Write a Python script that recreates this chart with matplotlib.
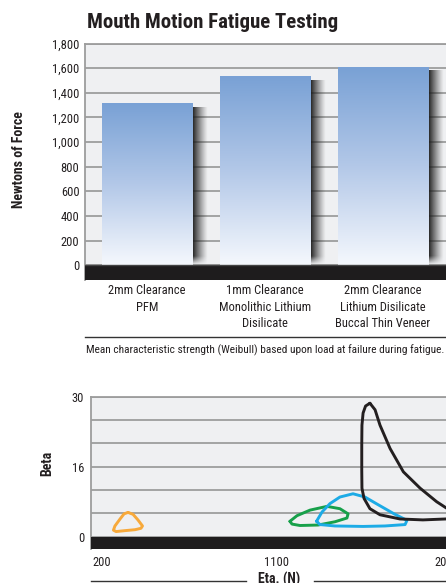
import numpy as np
import matplotlib
matplotlib.use("Agg")
import matplotlib.pyplot as plt
from matplotlib import font_manager
from matplotlib.colors import LinearSegmentedColormap
from matplotlib.lines import Line2D

names = sorted({f.name for f in font_manager.fontManager.ttflist})
NARROW = [n for n in ["DejaVu Sans Condensed", "Liberation Sans Narrow",
                      "Arial Narrow", "Roboto Condensed", "Open Sans Condensed"]
          if n in names] + ["Liberation Sans", "DejaVu Sans"]
plt.rcParams["font.family"] = NARROW
COND = NARROW[0] != "Liberation Sans"

# ---- data: bar chart ----
categories = [
    "2mm Clearance\nPFM",
    "1mm Clearance\nMonolithic Lithium\nDisilicate",
    "2mm Clearance\nLithium Disilicate\nBuccal Thin Veneer",
]
force_n = [1310, 1525, 1605]
force_ticks = list(range(0, 1801, 200))

# ---- data: Weibull contours (eta, beta) ----
orange_eta = [385, 411, 437, 461, 453, 422, 369, 322, 308, 316, 343, 364]
orange_beta = [5.2, 4.8, 3.6, 2.3, 1.8, 1.5, 1.3, 1.1, 1.4, 2.3, 3.8, 4.9]

green_eta = [1237, 1274, 1343, 1432, 1500, 1543, 1537, 1474, 1385, 1290, 1248]
green_beta = [3.3, 4.5, 5.7, 6.5, 6.0, 4.9, 4.0, 3.2, 2.5, 2.4, 2.7]

blue_eta = [1377, 1406, 1448, 1500, 1569, 1632, 1695, 1785, 1853, 1843,
            1737, 1622, 1474, 1395]
blue_beta = [3.3, 5.3, 7.1, 8.5, 9.2, 8.5, 7.0, 4.9, 3.5, 2.6,
             2.3, 2.2, 2.3, 2.6]

black_eta = [1658, 1635, 1622, 1616, 1615, 1615, 1616, 1627, 1658, 1711,
             1816, 1937, 2058, 2111, 2090, 2058, 2009, 1922, 1834, 1764,
             1711, 1685]
black_beta = [28.6, 28.0, 26.5, 23.9, 19.7, 14.3, 10.4, 8.2, 6.0, 4.7,
              3.8, 3.6, 3.8, 4.3, 5.5, 6.2, 7.5, 10.4, 13.9, 18.9,
              23.9, 27.2]

eta_ticks = [200, 1100, 2000]
beta_ticks = [0, 5, 10, 15, 20, 25, 30]
beta_labels = ["0", "", "", "16", "", "", "30"]

W, H = 446, 583
fig = plt.figure(figsize=(W / 100, H / 100), dpi=100)
fig.patch.set_facecolor("white")

BG = "#eff0f2"
GRID = "#9d9d9d"
BAND = "#1e1c1d"
TXT = "#231f20"

# sizes tuned for a condensed face; smaller if only a regular width is found
S_TITLE = 15 if COND else 13
S_TICK = 9 if COND else 8
S_CAP = 8.2 if COND else 7
S_LAB = 10 if COND else 9


def fx(px):
    return px / W


def fy(py):
    return 1 - py / H


# ================= top chart =================
ax = fig.add_axes([fx(85), fy(280), fx(470) - fx(85), fy(43.5) - fy(280)])
ax.set_facecolor(BG)
x = np.arange(len(categories))
bw = 0.77
ax.set_xlim(-0.525, -0.525 + 385 / 118)
ax.set_ylim(-118, 1800)

ax.set_yticks(force_ticks)
ax.set_yticklabels([f"{v:,}" for v in force_ticks])
ax.yaxis.grid(True, color=GRID, lw=1.3, zorder=0)
ax.set_axisbelow(True)
ax.axhspan(-118, 0, color=BAND, zorder=4, lw=0)
ax.axhline(0, color="#444444", lw=1, zorder=4)

bars = ax.bar(x, force_n, width=bw, color="none", edgecolor="none", zorder=3)

blue_cmap = LinearSegmentedColormap.from_list("bargrad", ["#f5f8fd", "#b3c8e8", "#79a1d5"])
grad = np.linspace(0, 1, 256).reshape(-1, 1)
for rect in bars:
    x0 = rect.get_x()
    x1 = x0 + rect.get_width()
    h = rect.get_height()
    ax.imshow(grad, extent=[x0, x1, 0, h], origin="lower", aspect="auto",
              cmap=blue_cmap, zorder=3)
    # soft drop shadow on the right side of the bar
    sw = 0.13
    nx, ny = 40, 200
    a = np.linspace(1.0, 0.0, nx) ** 1.2
    fade = np.clip((np.linspace(0, 1, ny)[::-1] * (h - 30)) / 70, 0, 1)
    rgba = np.zeros((ny, nx, 4))
    rgba[..., :3] = 0.1
    rgba[..., 3] = a[None, :] * fade[:, None]
    ax.imshow(rgba, extent=[x1, x1 + sw, 0, h - 30], origin="upper",
              aspect="auto", zorder=2.5)

ax.set_xticks(x)
ax.set_xticklabels(categories, fontsize=S_TICK, color=TXT)
for lbl in ax.get_xticklabels():
    lbl.set_linespacing(1.35)
ax.tick_params(axis="x", length=0, pad=3)
ax.tick_params(axis="y", length=0, pad=4, labelsize=S_TICK, labelcolor=TXT)
for s in ["right", "bottom"]:
    ax.spines[s].set_visible(False)
for s in ["top", "left"]:
    ax.spines[s].set_color(GRID)
    ax.spines[s].set_linewidth(1.3)

fig.text(fx(87), fy(28.5), "Mouth Motion Fatigue Testing", fontsize=S_TITLE,
         fontweight="bold", color=TXT, ha="left", va="baseline")
fig.text(fx(19), fy(160), "Newtons of Force", rotation=90, fontsize=S_LAB,
         fontweight="bold", color=TXT, ha="center", va="center")
fig.add_artist(Line2D([fx(85), 1], [fy(337.3), fy(337.3)], color="#333333", lw=1))
fig.text(fx(86), fy(350), "Mean characteristic strength (Weibull) based upon load "
         "at failure during fatigue.", fontsize=S_CAP, color=TXT, ha="left",
         va="center")

# ================= bottom chart =================
bx = fig.add_axes([fx(91), fy(549.3), fx(480) - fx(91), fy(396.7) - fy(549.3)])
bx.set_facecolor(BG)
bx.set_xlim(190, 190 + 389 * 5.263)
bx.set_ylim(-2.7, 30)
bx.set_yticks(beta_ticks)
bx.set_yticklabels(beta_labels)
bx.yaxis.grid(True, color=GRID, lw=1.3, zorder=0)
bx.set_axisbelow(True)
bx.axhspan(-2.7, 0, color=BAND, zorder=4, lw=0)

for etas, betas, col in [
    (orange_eta, orange_beta, "#f7a93b"),
    (green_eta, green_beta, "#17a04a"),
    (blue_eta, blue_beta, "#1cabe6"),
    (black_eta, black_beta, "#231f20"),
]:
    bx.plot(etas + etas[:1], betas + betas[:1], color=col, lw=2.1,
            solid_joinstyle="round", solid_capstyle="round", zorder=3)

bx.set_xticks(eta_ticks)
bx.set_xticklabels([str(v) for v in eta_ticks], fontsize=S_TICK, color=TXT)
for lbl in bx.get_xticklabels():
    lbl.set_horizontalalignment("left")
bx.tick_params(axis="x", length=0, pad=5)
bx.tick_params(axis="y", length=0, pad=5, labelsize=S_TICK, labelcolor=TXT)
for s in ["right", "bottom"]:
    bx.spines[s].set_visible(False)
for s in ["top", "left"]:
    bx.spines[s].set_color(GRID)
    bx.spines[s].set_linewidth(1.3)

fig.text(fx(47), fy(463), "Beta", rotation=90, fontsize=S_LAB, fontweight="bold",
         color=TXT, ha="center", va="center")
fig.text(fx(279.5), fy(571.5), "Eta. (N)", fontsize=S_LAB, fontweight="bold",
         color=TXT, ha="center", va="top")
fig.add_artist(Line2D([fx(91), fx(245.5)], [fy(581), fy(581)], color="#333333", lw=1))
fig.add_artist(Line2D([fx(314), 1], [fy(581), fy(581)], color="#333333", lw=1))

fig.savefig("out.png", dpi=100, facecolor="white")
